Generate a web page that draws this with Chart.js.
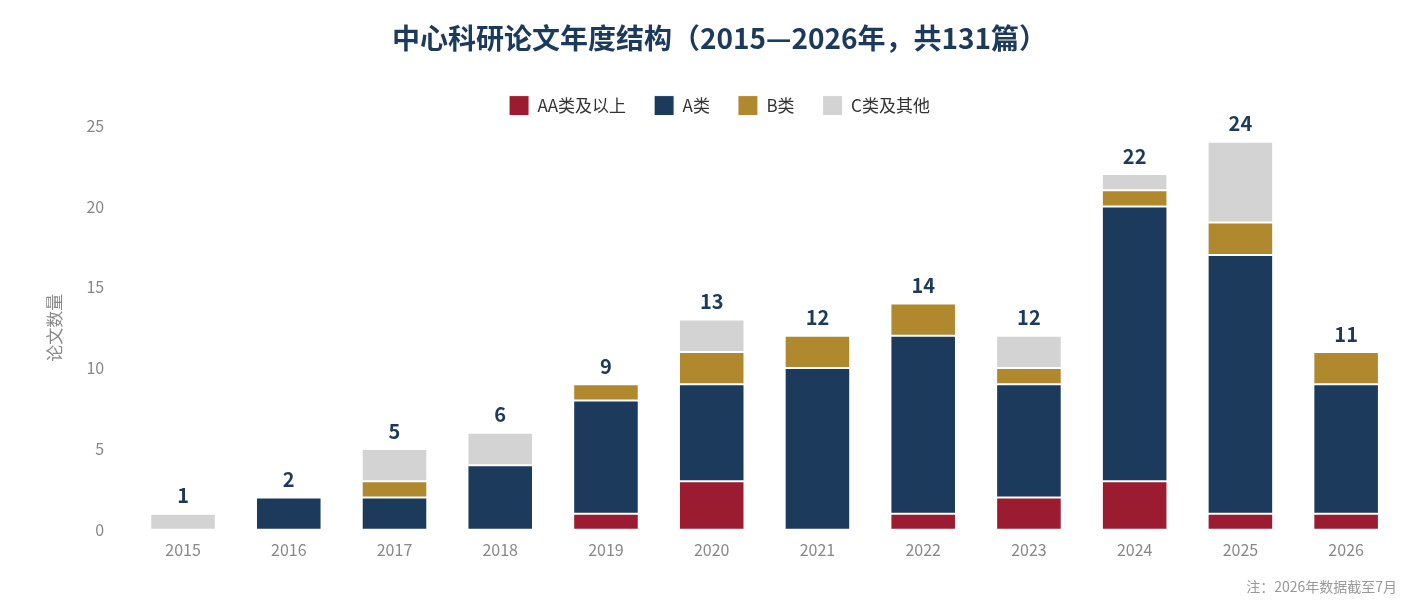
<!DOCTYPE html>
<html>
<head>
<meta charset="utf-8">
<script src="https://cdn.jsdelivr.net/npm/chart.js@4"></script>
<style>
  html, body { margin: 0; padding: 0; background: #fff; }
  #wrap { position: relative; width: 1419px; height: 603px; }
  #note { position: absolute; right: 22px; top: 576px; font: 14px "Noto Sans CJK SC", sans-serif; color: #999; }
</style>
</head>
<body>
<div id="wrap">
  <canvas id="chart" width="1419" height="603"></canvas>
  <div id="note">注：2026年数据截至7月</div>
</div>
<script>
const years = ['2015','2016','2017','2018','2019','2020','2021','2022','2023','2024','2025','2026'];
const aaPlus = [0, 0, 0, 0, 1, 3, 0, 1, 2, 3, 1, 1];
const aClass = [0, 2, 2, 4, 7, 6, 10, 11, 7, 17, 16, 8];
const bClass = [0, 0, 1, 0, 1, 2, 2, 2, 1, 1, 2, 2];
const cOther = [1, 0, 2, 2, 0, 2, 0, 0, 2, 1, 5, 0];

const font = '"Noto Sans CJK SC", "Noto Sans", sans-serif';

// totals above each stack
const totalLabels = {
  id: 'totalLabels',
  afterDatasetsDraw(chart) {
    const ctx = chart.ctx;
    const y = chart.scales.y;
    const meta = chart.getDatasetMeta(0);
    ctx.save();
    ctx.font = 'bold 20px ' + font;
    ctx.fillStyle = '#1b3a5c';
    ctx.textAlign = 'center';
    ctx.textBaseline = 'bottom';
    years.forEach((yr, i) => {
      const total = aaPlus[i] + aClass[i] + bClass[i] + cOther[i];
      ctx.fillText(total, meta.data[i].x, y.getPixelForValue(total) - 8);
    });
    ctx.restore();
  }
};

function ds(label, data, color) {
  return { label, data, backgroundColor: color, borderColor: '#fff', borderWidth: 1, borderSkipped: false, barPercentage: 0.62, categoryPercentage: 1 };
}

new Chart(document.getElementById('chart'), {
  type: 'bar',
  data: {
    labels: years,
    datasets: [
      ds('AA类及以上', aaPlus, '#9b1c31'),
      ds('A类', aClass, '#1b3a5c'),
      ds('B类', bClass, '#b0892f'),
      ds('C类及其他', cOther, '#d3d3d3')
    ]
  },
  options: {
    responsive: false,
    animation: false,
    layout: { padding: { left: 40, right: 20, top: 8, bottom: 40 } },
    plugins: {
      title: {
        display: true,
        text: '中心科研论文年度结构（2015—2026年，共131篇）',
        color: '#1b3a5c',
        font: { family: font, size: 28, weight: 'bold' },
        padding: { top: 14, bottom: 12 }
      },
      legend: {
        labels: {
          boxWidth: 20, boxHeight: 20, padding: 28,
          color: '#333',
          font: { family: font, size: 17 }
        }
      },
      tooltip: { enabled: false }
    },
    scales: {
      x: {
        stacked: true,
        grid: { display: false },
        border: { display: false },
        ticks: { color: '#888', font: { family: font, size: 16 } }
      },
      y: {
        stacked: true,
        min: 0, max: 25,
        grid: { display: false },
        border: { display: false },
        ticks: { stepSize: 5, color: '#888', padding: 18, font: { family: font, size: 16 } },
        title: { display: true, text: '论文数量', color: '#888', font: { family: font, size: 17 } }
      }
    }
  },
  plugins: [totalLabels]
});
</script>
</body>
</html>
